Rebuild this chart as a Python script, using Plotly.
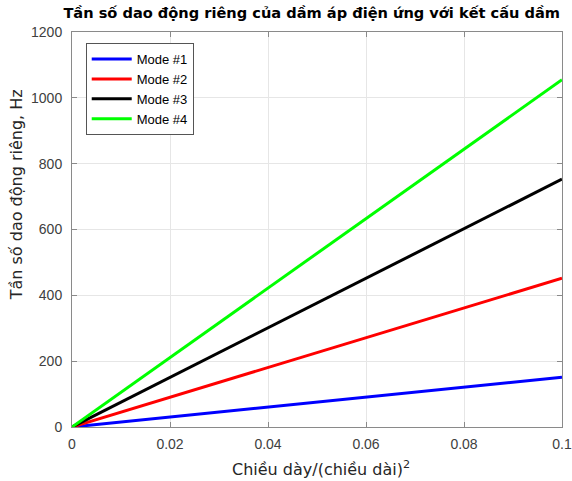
import plotly.graph_objects as go

# Thickness ratio h/L^2 and natural frequencies (Hz) for the first four modes
ratio = [0.0, 0.1]
mode1 = [0.0, 151.0]
mode2 = [0.0, 452.0]
mode3 = [0.0, 753.0]
mode4 = [0.0, 1055.0]

names = ["Mode #1", "Mode #2", "Mode #3", "Mode #4"]
colors = ["#0000ff", "#ff0000", "#000000", "#00ff00"]
series = [mode1, mode2, mode3, mode4]

x_ticks = [0, 0.02, 0.04, 0.06, 0.08, 0.1]
x_tick_text = ["0", "0.02", "0.04", "0.06", "0.08", "0.1"]
y_ticks = [0, 200, 400, 600, 800, 1000, 1200]

fig = go.Figure()
for name, color, ys in zip(names, colors, series):
    fig.add_trace(go.Scatter(x=ratio, y=ys, mode="lines", name=name,
                             line=dict(color=color, width=3)))

axis_common = dict(
    showgrid=True, gridcolor="#e6e6e6", gridwidth=1,
    showline=True, linecolor="#8a8a8a", linewidth=1, mirror="allticks",
    ticks="inside", ticklen=5, tickcolor="#8a8a8a",
    tickfont=dict(family="Liberation Sans, Arial", size=14, color="#404040"),
    zeroline=False, automargin=False,
)

label_font = dict(family="DejaVu Sans", color="#262626")

fig.update_layout(
    width=572, height=481,
    margin=dict(l=72, r=10, t=32, b=54),
    paper_bgcolor="white", plot_bgcolor="white",
    title=dict(text="<b>Tần số dao động riêng của dầm áp điện ứng với kết cấu dầm</b>",
               x=0.545, xanchor="center", y=0.983, yanchor="top",
               font=dict(family="DejaVu Sans", size=14.6, color="#000000")),
    xaxis=dict(range=[0, 0.1], tickvals=x_ticks, ticktext=x_tick_text,
               ticklabelstandoff=4, **axis_common),
    yaxis=dict(range=[0, 1200], tickvals=y_ticks,
               ticklabelstandoff=6, **axis_common),
    legend=dict(x=0.028, y=0.972, xanchor="left", yanchor="top",
                bgcolor="white", bordercolor="#555555", borderwidth=1,
                font=dict(family="Liberation Sans, Arial", size=13, color="#000000"),
                tracegroupgap=0, itemwidth=40),
    showlegend=True,
    annotations=[
        dict(text="Chiều dày/(chiều dài)<sup>2</sup>", xref="paper", yref="paper",
             x=0.508, y=-0.105, xanchor="center", yanchor="middle",
             showarrow=False, font=dict(size=16, **label_font)),
        dict(text="Tần số dao động riêng, Hz", xref="paper", yref="paper",
             x=-0.114, y=0.587, xanchor="center", yanchor="middle", textangle=-90,
             showarrow=False, font=dict(size=16, **label_font)),
    ],
)

fig.write_html("out.html")
